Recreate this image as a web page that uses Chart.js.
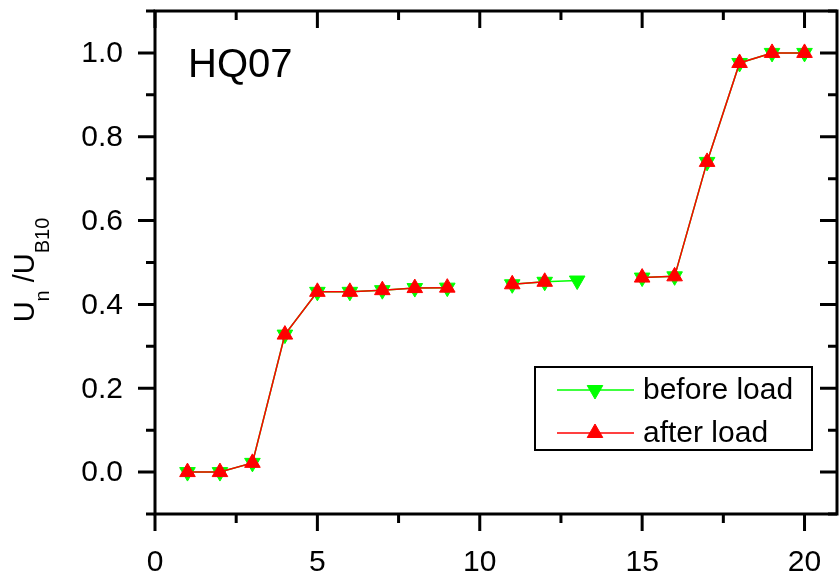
<!DOCTYPE html>
<html>
<head>
<meta charset="utf-8">
<script src="https://cdn.jsdelivr.net/npm/chart.js@4.4.0/dist/chart.umd.min.js"></script>
<style>
  html, body { margin: 0; padding: 0; background: #fff; overflow: hidden; }
  canvas { display: block; }
</style>
</head>
<body>
<canvas id="chart" width="839" height="577"></canvas>
<script>
const xValues = [1, 2, 3, 4, 5, 6, 7, 8, 9, 10, 11, 12, 13, 14, 15, 16, 17, 18, 19, 20]
const beforeLoad = [0.0, 0.0, 0.022, 0.328, 0.430, 0.430, 0.434, 0.439, 0.440, null, 0.448, 0.454, 0.457, null, 0.464, 0.467, 0.740, 0.976, 1.0, 1.0]
const afterLoad = [0.0, 0.0, 0.022, 0.328, 0.430, 0.430, 0.434, 0.439, 0.440, null, 0.448, 0.454, null, null, 0.464, 0.467, 0.740, 0.976, 1.0, 1.0]
const xTicks = [0, 5, 10, 15, 20]
const xMinor = [2.5, 7.5, 12.5, 17.5]
const yTicks = [0.0, 0.2, 0.4, 0.6, 0.8, 1.0]
const yMinor = [-0.1, 0.1, 0.3, 0.5, 0.7, 0.9, 1.1]
const seriesNames = ["before load", "after load"]

const FONT = "Arial, 'Liberation Sans', sans-serif"
const GREEN = "#00ff00"
const RED = "#ff0000"

function pts(vals) {
  return xValues.map((x, i) => ({ x: x, y: vals[i] }))
}

// frame, ticks (out on left/bottom, in on top/right), labels, legend
const decorations = {
  id: "decorations",
  afterDraw(chart) {
    const ctx = chart.ctx
    const xs = chart.scales.x, ys = chart.scales.y
    const a = chart.chartArea
    ctx.save()
    ctx.strokeStyle = "#000"
    ctx.lineWidth = 3
    ctx.strokeRect(a.left, a.top, a.right - a.left, a.bottom - a.top)

    const MAJ = 17, MIN = 9
    ctx.beginPath()
    xTicks.forEach(v => {
      const px = xs.getPixelForValue(v)
      ctx.moveTo(px, a.bottom); ctx.lineTo(px, a.bottom + MAJ)
      ctx.moveTo(px, a.top); ctx.lineTo(px, a.top + MAJ)
    })
    xMinor.forEach(v => {
      const px = xs.getPixelForValue(v)
      ctx.moveTo(px, a.bottom); ctx.lineTo(px, a.bottom + MIN)
      ctx.moveTo(px, a.top); ctx.lineTo(px, a.top + MIN)
    })
    yTicks.forEach(v => {
      const py = ys.getPixelForValue(v)
      ctx.moveTo(a.left, py); ctx.lineTo(a.left - MAJ, py)
      ctx.moveTo(a.right, py); ctx.lineTo(a.right - MAJ, py)
    })
    yMinor.forEach(v => {
      const py = ys.getPixelForValue(v)
      ctx.moveTo(a.left, py); ctx.lineTo(a.left - MIN, py)
      ctx.moveTo(a.right, py); ctx.lineTo(a.right - MIN, py)
    })
    ctx.stroke()

    ctx.fillStyle = "#000"
    ctx.font = "30px " + FONT
    ctx.textAlign = "center"
    ctx.textBaseline = "alphabetic"
    xTicks.forEach(v => ctx.fillText(String(v), xs.getPixelForValue(v), 571))
    ctx.textAlign = "right"
    ctx.textBaseline = "middle"
    yTicks.forEach(v => ctx.fillText(v.toFixed(1), 123, ys.getPixelForValue(v) + 1))

    // sample name
    ctx.textAlign = "left"
    ctx.textBaseline = "alphabetic"
    ctx.font = "40px " + FONT
    ctx.fillText("HQ07", 188, 77)

    // y title U_n /U_B10
    const parts = [["U", 29, 0], ["n", 20, 15], [" /", 29, 0], ["U", 29, 0], ["B10", 20, 15]]
    let total = 0
    parts.forEach(p => { ctx.font = p[1] + "px " + FONT; total += ctx.measureText(p[0]).width })
    ctx.translate(34, 270)
    ctx.rotate(-Math.PI / 2)
    let cx = -total / 2
    parts.forEach(p => {
      ctx.font = p[1] + "px " + FONT
      ctx.fillText(p[0], cx, p[2])
      cx += ctx.measureText(p[0]).width
    })
    ctx.restore()

    // legend
    ctx.save()
    ctx.strokeStyle = "#000"
    ctx.lineWidth = 2
    ctx.strokeRect(535, 367, 277, 83)
    const rows = [[390, GREEN, 180], [433, RED, 0]]
    rows.forEach((r, i) => {
      ctx.strokeStyle = r[1]
      ctx.lineWidth = 1.5
      ctx.beginPath()
      ctx.moveTo(557, r[0]); ctx.lineTo(634, r[0])
      ctx.stroke()
      ctx.fillStyle = r[1]
      ctx.strokeStyle = r[1]
      ctx.lineWidth = 1
      Chart.helpers.drawPoint(ctx, { pointStyle: "triangle", radius: 9, rotation: r[2], borderWidth: 1 }, 595, r[0])
      ctx.fillStyle = "#000"
      ctx.font = "30px " + FONT
      ctx.textAlign = "left"
      ctx.textBaseline = "middle"
      ctx.fillText(seriesNames[i], 643, r[0] + 1)
    })
    ctx.restore()
  }
}

new Chart(document.getElementById("chart"), {
  type: "line",
  data: {
    datasets: [
      {
        label: seriesNames[1],
        data: pts(afterLoad),
        borderColor: RED,
        backgroundColor: RED,
        borderWidth: 1.5,
        pointStyle: "triangle",
        pointRadius: 9,
        pointBorderWidth: 1,
        pointBorderColor: RED,
        pointBackgroundColor: RED,
        spanGaps: false,
        order: 0
      },
      {
        label: seriesNames[0],
        data: pts(beforeLoad),
        borderColor: GREEN,
        backgroundColor: GREEN,
        borderWidth: 1.5,
        pointStyle: "triangle",
        pointRotation: 180,
        pointRadius: 9,
        pointBorderWidth: 1,
        pointBorderColor: GREEN,
        pointBackgroundColor: GREEN,
        spanGaps: false,
        order: 1
      }
    ]
  },
  options: {
    responsive: false,
    maintainAspectRatio: false,
    animation: false,
    devicePixelRatio: 1,
    layout: { autoPadding: false, padding: { left: 155, right: 2, top: 11, bottom: 63 } },
    plugins: { legend: { display: false }, tooltip: { enabled: false } },
    scales: {
      x: { type: "linear", min: 0, max: 21, display: false },
      y: { type: "linear", min: -0.1, max: 1.1, display: false }
    }
  },
  plugins: [decorations]
})
</script>
</body>
</html>
